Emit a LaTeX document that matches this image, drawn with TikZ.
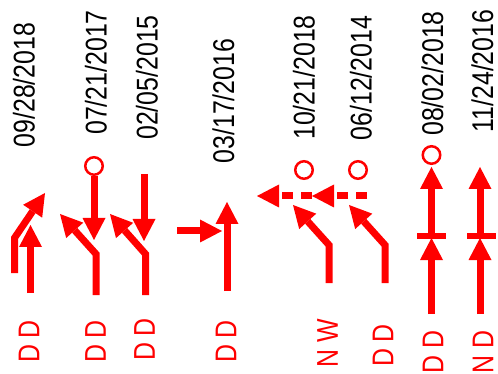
\documentclass[tikz,border=0pt]{standalone}
\usepackage{fontspec}
\newfontfamily\nfont[FakeStretch=0.83]{Liberation Sans}
\usetikzlibrary{arrows.meta}
\begin{document}
\begin{tikzpicture}[x=1pt,y=-1pt,
  sym/.style={draw=red, line width=7pt},
  arr/.style={sym, -{Triangle[length=22pt,width=23pt,line width=0pt]}},
  dasharr/.style={arr, dash pattern=on 11pt off 8pt},
  bar/.style={draw=red, line width=6pt},
  ring/.style={draw=red, line width=2.5pt},
  date/.style={rotate=90, font=\nfont\fontsize{30}{36}\selectfont, inner sep=0pt},
  lab/.style={date, text=red}]
\useasboundingbox (0,0) rectangle (498,374);
% dates
\node[date] (d1) at (24,85) {09/28/2018};
\node[date] (d2) at (96,72.5) {07/21/2017};
\node[date] (d3) at (147,77.5) {02/05/2015};
\node[date] (d4) at (223.5,101) {03/17/2016};
\node[date] (d5) at (304,77.5) {10/21/2018};
\node[date] (d6) at (361,78) {06/12/2014};
\node[date] (d7) at (432.5,73.5) {08/02/2018};
\node[date] (d8) at (482.5,71) {11/24/2016};
% labels
\node[lab] (l1) at (29,341.5) {D D};
\node[lab] (l2) at (95.5,341.5) {D D};
\node[lab] (l3) at (144.5,339.5) {D D};
\node[lab] (l4) at (226,341.5) {D D};
\node[lab] (l5) at (327.5,343.5) {N W};
\node[lab] (l6) at (383,345.5) {D D};
\node[lab] (l7) at (433,352) {D D};
\node[lab] (l8) at (483,352) {N D};
% col 1
\draw[arr] (14.5,273) -- (14.5,238) -- (45,193);
\draw[arr] (30.5,293) -- (30.5,225);
% col 2
\draw[ring] (94,166) circle[radius=8.75pt];
\draw[arr] (94,176) -- (94,240);
\draw[arr] (96,295) -- (96,254) -- (60,214);
% col 3
\draw[arr] (144,174) -- (144,241);
\draw[arr] (145.5,295) -- (145.5,254) -- (110,214);
% col 4
\draw[arr] (227,291) -- (227,202);
\draw[arr] (177,231) -- (222,231);
% col 5
\draw[ring] (304,170) circle[radius=8.75pt];
\draw[dasharr] (312,196) -- (257,196);
\draw[arr] (329,283) -- (329,245) -- (293,205);
% col 6
\draw[ring] (358,170) circle[radius=8.75pt];
\draw[dasharr] (367,196) -- (312,196);
\draw[arr] (385,283) -- (385,245) -- (349,205);
% col 7
\draw[ring] (431.5,155) circle[radius=8.75pt];
\draw[arr] (431.5,236) -- (431.5,167);
\draw[bar] (417,236) -- (446,236);
\draw[arr] (431.5,314) -- (431.5,238);
% col 8
\draw[arr] (480,236) -- (480,167);
\draw[bar] (467,236) -- (496,236);
\draw[arr] (480,314) -- (480,238);
\end{tikzpicture}
\end{document}
